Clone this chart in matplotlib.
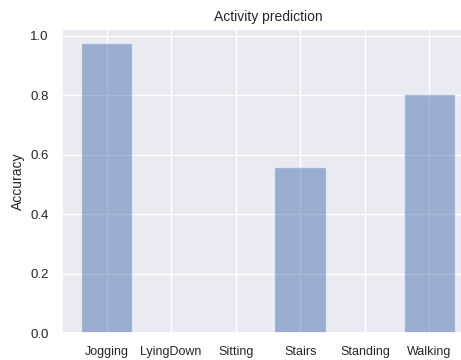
import numpy as np
import matplotlib
matplotlib.use("Agg")
import matplotlib.pyplot as plt
import seaborn as sns

# accuracy per activity
activities = ["Jogging", "LyingDown", "Sitting", "Stairs", "Standing", "Walking"]
accuracy = [0.974, 0.0, 0.0, 0.56, 0.0, 0.804]

sns.set_theme()
plt.rcParams['font.family'] = ['Liberation Sans', 'DejaVu Sans']

fig = plt.figure(figsize=(4.61, 3.6), dpi=100)
# axes run a bit past the right edge like in the reference crop
ax = fig.add_axes([62 / 461, 27 / 360, 412 / 461, 304 / 360])

x_pos = np.arange(len(activities))
ax.bar(x_pos, accuracy, align='center', alpha=0.5)
ax.set_xticks(x_pos)
ax.set_xticklabels(activities, fontsize=9)
ax.tick_params(axis='y', labelsize=9.5)
ax.set_ylabel("Accuracy", fontsize=10)
ax.set_title("Activity prediction", fontsize=10)

fig.savefig("out.png", dpi=100)
